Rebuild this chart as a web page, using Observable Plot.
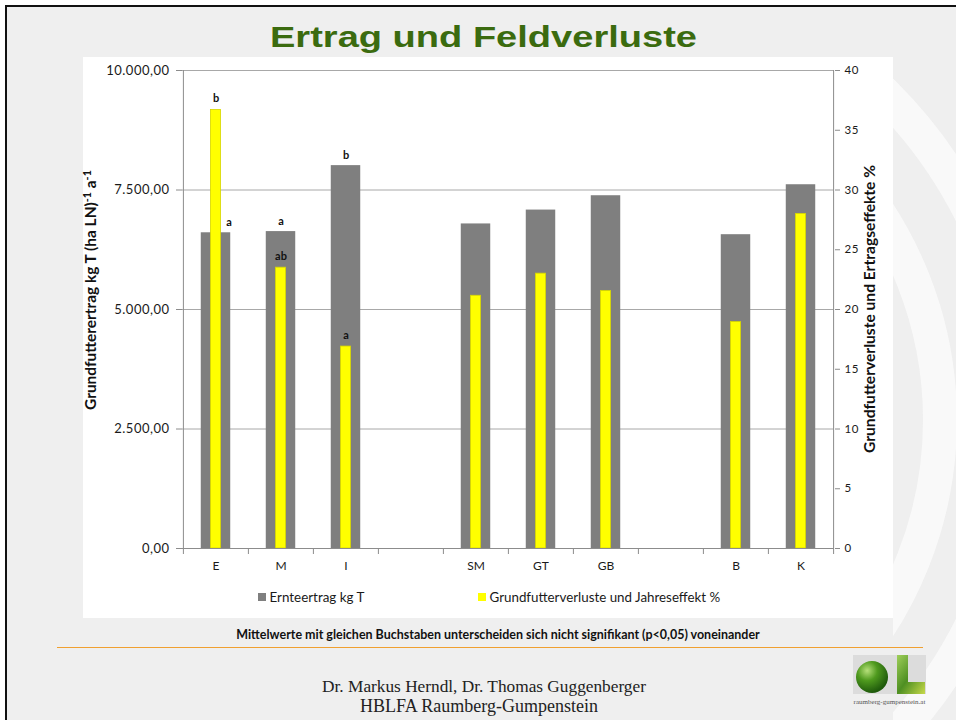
<!DOCTYPE html>
<html>
<head>
<meta charset="utf-8">
<script src="https://cdn.jsdelivr.net/npm/d3@7"></script>
<script src="https://cdn.jsdelivr.net/npm/@observablehq/plot@0.6"></script>
<style>
  html, body { margin: 0; padding: 0; width: 956px; height: 720px; overflow: hidden; background: #ffffff; }
  #slide { position: absolute; left: 5px; top: 5px; width: 1000px; height: 800px; background: #efefef;
           border-left: 2.5px solid #111; border-top: 2.5px solid #111; box-sizing: border-box; }
  #bg { position: absolute; left: 0; top: 0; }
  #chartArea { position: absolute; left: 83px; top: 57px; width: 810px; height: 561px; background: #ffffff; }
  #chart { position: absolute; left: 0; top: 0; }
  #overlay { position: absolute; left: 0; top: 0; pointer-events: none; }
  #chart g[aria-label="y-axis tick label"] text { letter-spacing: 0.5px; }
</style>
</head>
<body>
<div id="slide"></div>
<svg id="bg" width="956" height="720"></svg>
<div id="chartArea"></div>
<div id="chart"></div>
<svg id="overlay" width="956" height="720"></svg>
<script>
// ---------------- data ----------------
const slots = ["E", "M", "I", "gap1", "SM", "GT", "GB", "gap2", "B", "K"];
const groups = ["E", "M", "I", "SM", "GT", "GB", "B", "K"];
const ernteertrag = [6605, 6630, 8010, 6790, 7080, 7380, 6565, 7610];           // kg T
const verluste = [36.7, 23.5, 16.9, 21.15, 23.0, 21.55, 18.95, 28.0];          // %
const lettersErtrag = ["a", "a", "b", "", "", "", "", ""];
const lettersVerluste = ["b", "ab", "a", "", "", "", "", ""];
const yTicksLeft = [0, 2500, 5000, 7500, 10000];
const yTicksRight = [0, 5, 10, 15, 20, 25, 30, 35, 40];
const seriesNames = ["Ernteertrag kg T", "Grundfutterverluste und Jahreseffekt %"];
const titleText = "Ertrag und Feldverluste";
const yLabelLeft = ["Grundfutterertrag kg T (ha LN)", "-1", " a", "-1"];
const yLabelRight = "Grundfutterverluste und Ertragseffekte %";
const footnote = "Mittelwerte mit gleichen Buchstaben unterscheiden sich nicht signifikant (p<0,05) voneinander";
const authors = ["Dr. Markus Herndl, Dr. Thomas Guggenberger", "HBLFA Raumberg-Gumpenstein"];
const logoText = "raumberg-gumpenstein.at";

// ---------------- derived ----------------
const leftMax = yTicksLeft[yTicksLeft.length - 1];
const rightMax = yTicksRight[yTicksRight.length - 1];
const k = leftMax / rightMax;   // right axis mapped onto left scale
const rows = groups.map((g, i) => ({
  g, ertrag: ernteertrag[i], verl: verluste[i], le: lettersErtrag[i], lv: lettersVerluste[i]
}));
const de = d3.formatLocale({decimal: ",", thousands: ".", grouping: [3], currency: ["", ""]});
const fmt = de.format(",.2f");

const W = 956, H = 620, mL = 182, mR = 122, mT = 70, mB = 72;
const bw = (W - mL - mR) / slots.length;
const grayInset = bw * (1 - 0.455) / 2;
const yellowInset = bw * (1 - 0.158) / 2;
const axisColor = "#8c8c8c";
const font = "Lato, 'Open Sans', sans-serif";

const chart = Plot.plot({
  width: W, height: H,
  marginLeft: mL, marginRight: mR, marginTop: mT, marginBottom: mB,
  style: {background: "transparent", fontFamily: font, overflow: "visible"},
  x: {domain: slots, padding: 0, axis: null},
  y: {domain: [0, leftMax], axis: null},
  marks: [
    Plot.ruleY(yTicksLeft.slice(1), {stroke: "#a8a8a8", strokeWidth: 1}),
    Plot.barY(rows, {x: "g", y: "ertrag", fill: "#7f7f7f", insetLeft: grayInset, insetRight: grayInset}),
    Plot.barY(rows, {x: "g", y: d => d.verl * k, fill: "#ffff00", stroke: "#d6d600", strokeWidth: 0.8,
                     insetLeft: yellowInset, insetRight: yellowInset}),
    Plot.ruleY([0], {stroke: axisColor}),
    Plot.ruleX([slots[0]], {dx: -bw / 2, stroke: axisColor}),
    Plot.ruleX([slots[slots.length - 1]], {dx: bw / 2, stroke: axisColor}),
    // category boundary ticks
    Plot.axisX({tickSize: 6, dx: -bw / 2, stroke: axisColor, tickFormat: () => "", label: null}),
    Plot.axisX([slots[slots.length - 1]], {tickSize: 6, dx: bw / 2, stroke: axisColor, tickFormat: () => "", label: null}),
    // category labels
    Plot.axisX({tickSize: 0, tickPadding: 13, fill: "#1a1a1a", fontSize: 12,
                tickFormat: d => d.startsWith("gap") ? "" : d, label: null}),
    // left axis
    Plot.axisY({anchor: "left", ticks: yTicksLeft, tickFormat: fmt, tickSize: 6, tickPadding: 7,
                stroke: axisColor, fill: "#1a1a1a", fontSize: 13, label: null}),
    // right axis
    Plot.axisY({anchor: "right", ticks: yTicksRight.map(v => v * k), tickFormat: v => String(v / k),
                tickSize: 5, tickPadding: 5, stroke: axisColor, fill: "#1a1a1a", fontSize: 11.5, label: null}),
    // significance letters
    Plot.text(rows.filter(d => d.le && d.verl * k <= d.ertrag),
              {x: "g", y: "ertrag", text: "le", dy: -10, fontWeight: "bold", fontSize: 11, fill: "#111"}),
    Plot.text(rows.filter(d => d.le && d.verl * k > d.ertrag),
              {x: "g", y: "ertrag", text: "le", dy: -10, dx: 13, fontWeight: "bold", fontSize: 11, fill: "#111"}),
    Plot.text(rows.filter(d => d.lv),
              {x: "g", y: d => d.verl * k, text: "lv", dy: -11, fontWeight: "bold", fontSize: 11, fill: "#111"})
  ]
});
document.getElementById("chart").appendChild(chart);

// ---------------- background arcs ----------------
const bg = d3.select("#bg");
bg.append("clipPath").attr("id", "rightClip").append("rect")
  .attr("x", 893).attr("y", 8).attr("width", 63).attr("height", 712);
const arcs = bg.append("g").attr("clip-path", "url(#rightClip)");
[380, 460].forEach(r => arcs.append("circle").attr("cx", 560).attr("cy", 420).attr("r", r)
  .attr("fill", "none").attr("stroke", "#fbfbfb").attr("stroke-width", 34).attr("opacity", 0.8));

// ---------------- overlay texts ----------------
const ov = d3.select("#overlay");
function fit(sel, target) {
  const w = sel.node().getComputedTextLength();
  const fs = parseFloat(sel.attr("font-size"));
  sel.attr("font-size", fs * target / w);
}

// title
ov.append("text").attr("x", 483.5).attr("y", 47).attr("text-anchor", "middle")
  .attr("font-family", "'Liberation Sans', Arial, sans-serif").attr("font-weight", "bold")
  .attr("font-size", 30).attr("fill", "#3b6b0f")
  .attr("textLength", 427).attr("lengthAdjust", "spacingAndGlyphs")
  .text(titleText);

// left axis title
const lt = ov.append("text").attr("transform", "translate(96,290) rotate(-90)")
  .attr("text-anchor", "middle").attr("font-family", font).attr("font-weight", "bold")
  .attr("font-size", 13).attr("fill", "#111");
lt.append("tspan").text(yLabelLeft[0]);
lt.append("tspan").attr("dy", -5).attr("font-size", "0.7em").text(yLabelLeft[1]);
lt.append("tspan").attr("dy", 5).text(yLabelLeft[2]);
lt.append("tspan").attr("dy", -5).attr("font-size", "0.7em").text(yLabelLeft[3]);
fit(lt, 240);

// right axis title
const rt = ov.append("text").attr("transform", "translate(875,309) rotate(-90)")
  .attr("text-anchor", "middle").attr("font-family", font).attr("font-weight", "bold")
  .attr("font-size", 13).attr("fill", "#111").text(yLabelRight);
fit(rt, 288);

// legend
const legendColors = ["#7f7f7f", "#ffff00"];
const legendX = [258, 478];
seriesNames.forEach((name, i) => {
  ov.append("rect").attr("x", legendX[i]).attr("y", 593).attr("width", 8).attr("height", 8)
    .attr("fill", legendColors[i]);
  const t = ov.append("text").attr("x", legendX[i] + 11.5).attr("y", 597).attr("dy", "0.35em")
    .attr("font-family", font).attr("font-size", 12).attr("fill", "#1a1a1a").text(name);
  fit(t, i === 0 ? 95 : 231);
});

// footnote
const fn = ov.append("text").attr("x", 498).attr("y", 635).attr("dy", "0.35em").attr("text-anchor", "middle")
  .attr("font-family", font).attr("font-weight", "bold").attr("font-size", 10).attr("fill", "#111")
  .text(footnote);
fit(fn, 524);

// orange separator
ov.append("line").attr("x1", 57).attr("x2", 923).attr("y1", 647.5).attr("y2", 647.5)
  .attr("stroke", "#f0a030").attr("stroke-width", 1.2);

// authors
const a1 = ov.append("text").attr("x", 484).attr("y", 686).attr("dy", "0.35em").attr("text-anchor", "middle")
  .attr("font-family", "'Liberation Serif', 'Times New Roman', serif").attr("font-size", 16)
  .attr("fill", "#222").text(authors[0]);
fit(a1, 324);
const a2 = ov.append("text").attr("x", 479).attr("y", 706).attr("dy", "0.35em").attr("text-anchor", "middle")
  .attr("font-family", "'Liberation Serif', 'Times New Roman', serif").attr("font-size", 16)
  .attr("fill", "#222").text(authors[1]);
fit(a2, 238);

// logo
const defs = ov.append("defs");
const rg = defs.append("radialGradient").attr("id", "ball").attr("cx", "35%").attr("cy", "30%").attr("r", "70%");
rg.append("stop").attr("offset", "0%").attr("stop-color", "#b6e07a");
rg.append("stop").attr("offset", "45%").attr("stop-color", "#4f9a1e");
rg.append("stop").attr("offset", "100%").attr("stop-color", "#1f5a0c");
const lg = defs.append("linearGradient").attr("id", "ell").attr("x1", "0").attr("y1", "0").attr("x2", "1").attr("y2", "1");
lg.append("stop").attr("offset", "0%").attr("stop-color", "#9fcf5a");
lg.append("stop").attr("offset", "50%").attr("stop-color", "#4e8f22");
lg.append("stop").attr("offset", "100%").attr("stop-color", "#c7d94a");
ov.append("rect").attr("x", 853).attr("y", 655).attr("width", 73).attr("height", 39).attr("fill", "#dcdcdc");
ov.append("circle").attr("cx", 872).attr("cy", 677).attr("r", 16).attr("fill", "url(#ball)");
ov.append("path").attr("d", "M897,655 H908 V682 H925 V694 H897 Z").attr("fill", "url(#ell)");
const lt2 = ov.append("text").attr("x", 889.5).attr("y", 702).attr("dy", "0.35em").attr("text-anchor", "middle")
  .attr("font-family", "'Liberation Serif', serif").attr("font-size", 5).attr("fill", "#555").text(logoText);
fit(lt2, 72);
</script>
</body>
</html>
